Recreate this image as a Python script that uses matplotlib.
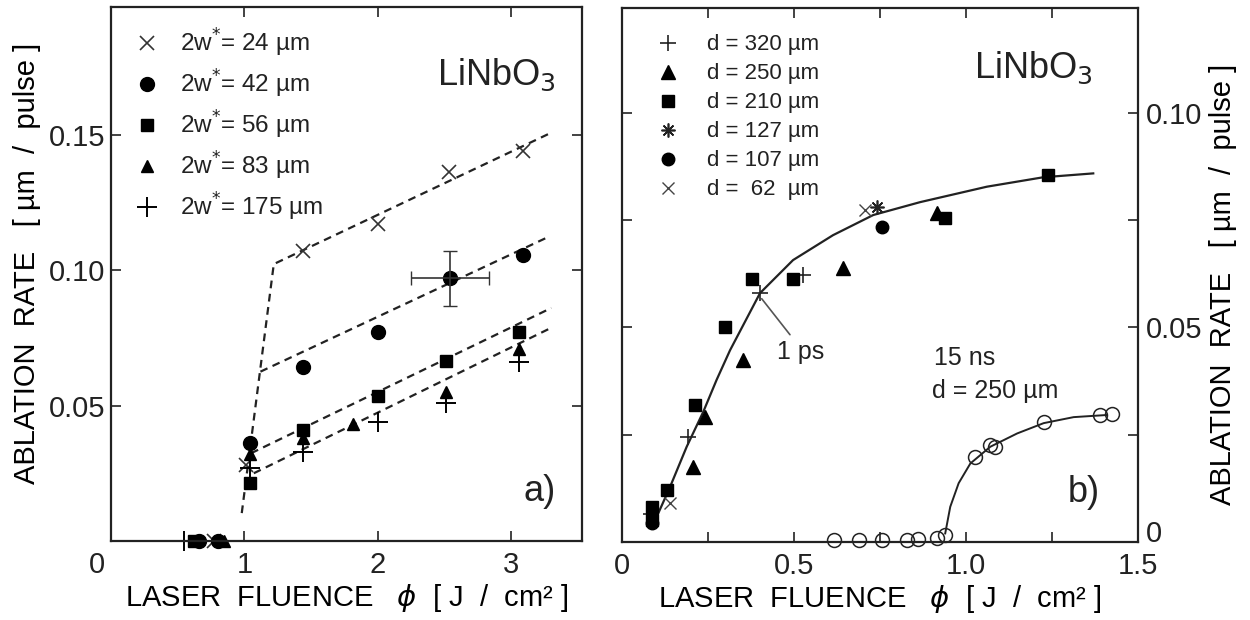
import matplotlib
matplotlib.use("Agg")
import matplotlib.pyplot as plt
import matplotlib.transforms as mtransforms

plt.rcParams['font.family'] = ['Liberation Sans', 'DejaVu Sans']
plt.rcParams['text.color'] = '#222222'
plt.rcParams['xtick.color'] = '#222222'
plt.rcParams['ytick.color'] = '#222222'

# ---- panel a) : 2w* series (fluence J/cm2, rate um/pulse)
x_24 = [0.77, 1.01, 1.44, 2.00, 2.53, 3.09]
y_24 = [0.0, 0.028, 0.107, 0.117, 0.136, 0.144]
x_42 = [0.66, 0.80, 1.04, 1.44, 2.00, 2.54, 3.09]
y_42 = [0.0, 0.0, 0.036, 0.0644, 0.0772, 0.097, 0.1054]
x_56 = [0.62, 1.04, 1.44, 2.00, 2.51, 3.06]
y_56 = [0.0, 0.0213, 0.0409, 0.0534, 0.0665, 0.0772]
x_83 = [0.85, 1.04, 1.44, 1.81, 2.51, 3.06]
y_83 = [0.0, 0.032, 0.038, 0.043, 0.055, 0.071]
x_175 = [0.55, 1.04, 1.44, 2.00, 2.51, 3.06]
y_175 = [0.0, 0.027, 0.033, 0.044, 0.051, 0.066]
err_pt = (2.54, 0.097)
err_x, err_y = 0.29, 0.0101

# dashed guide lines
fit_24_x = [0.98, 1.22, 3.30]
fit_24_y = [0.0103, 0.1022, 0.1507]
fit_42_x = [1.12, 3.29]
fit_42_y = [0.0625, 0.1125]
fit_56_x = [1.05, 3.30]
fit_56_y = [0.0324, 0.086]
fit_83_x = [1.07, 3.30]
fit_83_y = [0.025, 0.0787]

labels_a = ["2w$^{*}$= 24 µm", "2w$^{*}$= 42 µm", "2w$^{*}$= 56 µm",
            "2w$^{*}$= 83 µm", "2w$^{*}$= 175 µm"]

# ---- panel b) : 1 ps, different d
x_320 = [0.085, 0.194, 0.402, 0.527]
y_320 = [0.0065, 0.0245, 0.058, 0.0622]
x_250 = [0.208, 0.2425, 0.354, 0.644, 0.916]
y_250 = [0.0175, 0.0292, 0.0424, 0.0638, 0.0766]
x_210 = [0.0875, 0.0875, 0.131, 0.213, 0.3006, 0.378, 0.499, 0.940, 1.240]
y_210 = [0.0082, 0.0051, 0.0121, 0.0319, 0.0502, 0.0614, 0.0614, 0.0754, 0.0855]
x_127 = [0.742]
y_127 = [0.0781]
x_107 = [0.0875, 0.756]
y_107 = [0.0044, 0.0733]
x_62 = [0.141, 0.7075]
y_62 = [0.0091, 0.0774]
labels_b = ["d = 320 µm", "d = 250 µm", "d = 210 µm",
            "d = 127 µm", "d = 107 µm", "d =  62  µm"]

# 1 ps fit curve
ps_x = [0.095, 0.102, 0.141, 0.189, 0.2375, 0.276, 0.315, 0.402, 0.498,
        0.614, 0.731, 0.867, 1.061, 1.225, 1.370]
ps_y = [0.0045, 0.0059, 0.0129, 0.0222, 0.0304, 0.0378, 0.0447, 0.058,
        0.0657, 0.0715, 0.0762, 0.0792, 0.0828, 0.085, 0.0859]

# 15 ns, d = 250 um
ns_x = [0.617, 0.690, 0.756, 0.828, 0.862, 0.916, 0.940, 1.027, 1.071,
        1.085, 1.226, 1.391, 1.425]
ns_y = [0.0005, 0.0005, 0.0005, 0.0005, 0.0007, 0.0009, 0.0016, 0.0199,
        0.0226, 0.0222, 0.028, 0.0296, 0.0298]
ns_fit_x = [0.940, 0.9546, 0.979, 1.013, 1.071, 1.149, 1.226, 1.313, 1.410]
ns_fit_y = [0.002, 0.0082, 0.0137, 0.0183, 0.0222, 0.0253, 0.0277, 0.0291, 0.0296]

xlabel = "LASER  FLUENCE   $\\phi$  [ J  /  cm² ]"
ylabel = "ABLATION  RATE   [ µm  /  pulse ]"

fig = plt.figure(figsize=(12.5, 6.2), dpi=100)
ax1 = fig.add_axes([0.0888, 0.1274, 0.3768, 0.861])
ax2 = fig.add_axes([0.4973, 0.1258, 0.4131, 0.861])

dash = dict(color='#222222', lw=1.6, ls=(0, (3.5, 2.5)))
for fx, fy in [(fit_24_x, fit_24_y), (fit_42_x, fit_42_y),
               (fit_56_x, fit_56_y), (fit_83_x, fit_83_y)]:
    ax1.plot(fx, fy, **dash)

ax1.plot(x_24, y_24, ls='none', marker='x', ms=10, mew=1.2, color='#333333',
         label=labels_a[0], clip_on=False)
ax1.plot(x_42, y_42, ls='none', marker='o', ms=10, color='black',
         label=labels_a[1], clip_on=False)
ax1.plot(x_56, y_56, ls='none', marker='s', ms=9, color='black',
         label=labels_a[2], clip_on=False)
ax1.plot(x_83, y_83, ls='none', marker='^', ms=9, color='black',
         label=labels_a[3], clip_on=False)
ax1.plot(x_175, y_175, ls='none', marker='+', ms=15, mew=1.4, color='black',
         label=labels_a[4], clip_on=False)
ax1.errorbar([err_pt[0]], [err_pt[1]], xerr=err_x, yerr=err_y, fmt='none',
             ecolor='#333333', elinewidth=1.2, capsize=5)

ax1.set_xlim(0, 3.53)
ax1.set_ylim(0, 0.197)
ax1.set_xticks([0, 1, 2, 3])
ax1.set_xticklabels(['0', '1', '2', '3'])
ax1.set_yticks([0.05, 0.10, 0.15])
ax1.set_yticklabels(['0.05', '0.10', '0.15'])
ax1.tick_params(direction='in', top=True, right=True, length=7, width=1.2,
                labelsize=21)
ax1.tick_params(axis='x', pad=7)
ax1.tick_params(axis='y', pad=4)
ax1.set_xlabel(xlabel, fontsize=21, labelpad=2)
ax1.set_ylabel(ylabel, fontsize=21)
ax1.yaxis.set_label_coords(-0.148, 0.52)
ax1.legend(loc='upper left', frameon=False, fontsize=17.5, labelspacing=0.37,
           handletextpad=0.55, borderaxespad=0.3, handlelength=1.6,
           bbox_to_anchor=(0.0, 0.996))
ax1.text(0.945, 0.873, "LiNbO$_3$", transform=ax1.transAxes, fontsize=26,
         ha='right', va='center')
ax1.text(0.945, 0.092, "a)", transform=ax1.transAxes, fontsize=26,
         ha='right', va='center')
# the "0" of the fluence axis sits a little left of the corner
lbl0 = ax1.get_xticklabels()[0]
lbl0.set_transform(lbl0.get_transform() +
                   mtransforms.ScaledTranslation(-0.14, 0, fig.dpi_scale_trans))

# panel b
ax2.plot(ps_x, ps_y, color='#222222', lw=1.6)
ax2.plot(ns_fit_x, ns_fit_y, color='#222222', lw=1.4)
ax2.plot(x_320, y_320, ls='none', marker='+', ms=11, mew=1.2, color='#222222',
         label=labels_b[0])
ax2.plot(x_250, y_250, ls='none', marker='^', ms=10, color='black',
         label=labels_b[1])
ax2.plot(x_210, y_210, ls='none', marker='s', ms=9, color='black',
         label=labels_b[2])
ax2.plot(x_127, y_127, ls='none', marker=(8, 2, 0), ms=10, mew=1.2,
         color='#222222', label=labels_b[3])
ax2.plot(x_107, y_107, ls='none', marker='o', ms=9, color='black',
         label=labels_b[4])
ax2.plot(x_62, y_62, ls='none', marker='x', ms=9, mew=1.0, color='#444444',
         label=labels_b[5])
ax2.plot(ns_x, ns_y, ls='none', marker='o', ms=10, mfc='none', mec='#222222',
         mew=1.1, clip_on=False)

ax2.set_xlim(0, 1.5)
ax2.set_ylim(0, 0.1244)
ax2.set_xticks([0, 0.5, 1.0, 1.5])
ax2.set_xticklabels(['0', '0.5', '1.0', '1.5'])
ax2.set_xticks([0.25, 0.75, 1.25], minor=True)
ax2.set_yticks([0, 0.05, 0.10])
ax2.set_yticklabels(['0', '0.05', '0.10'])
ax2.set_yticks([0.025, 0.075], minor=True)
ax2.yaxis.tick_right()
ax2.yaxis.set_label_position('right')
ax2.tick_params(which='both', direction='in', top=True, left=True, right=True,
                length=7, width=1.2, labelsize=21)
ax2.tick_params(axis='x', pad=7)
ax2.tick_params(axis='y', pad=6)
ax2.set_xlabel(xlabel, fontsize=21, labelpad=2)
ax2.set_ylabel(ylabel, fontsize=21)
ax2.yaxis.set_label_coords(1.138, 0.482)
ax2.legend(loc='upper left', frameon=False, fontsize=16, labelspacing=0.36,
           handletextpad=0.95, borderaxespad=0.3, handlelength=1.6,
           bbox_to_anchor=(0.025, 0.98))
ax2.text(0.913, 0.889, "LiNbO$_3$", transform=ax2.transAxes, fontsize=26,
         ha='right', va='center')
ax2.text(0.927, 0.092, "b)", transform=ax2.transAxes, fontsize=26,
         ha='right', va='center')
ax2.annotate("", xy=(0.402, 0.0572), xytext=(0.494, 0.0478),
             arrowprops=dict(arrowstyle='-', color='#555555', lw=1.2))
ax2.text(0.451, 0.0443, "1 ps", fontsize=18, ha='left', va='center')
ax2.text(0.907, 0.0429, "15 ns", fontsize=18, ha='left', va='center')
ax2.text(0.901, 0.0351, "d = 250 µm", fontsize=18, ha='left', va='center')
# the "0" of the right rate axis sits a little above the corner
rlbl0 = ax2.get_yticklabels()[0]
rlbl0.set_transform(rlbl0.get_transform() +
                    mtransforms.ScaledTranslation(0, 0.11, fig.dpi_scale_trans))

for ax in (ax1, ax2):
    for s in ax.spines.values():
        s.set_linewidth(1.6)
        s.set_color('#222222')

fig.savefig("out.png", dpi=100)
